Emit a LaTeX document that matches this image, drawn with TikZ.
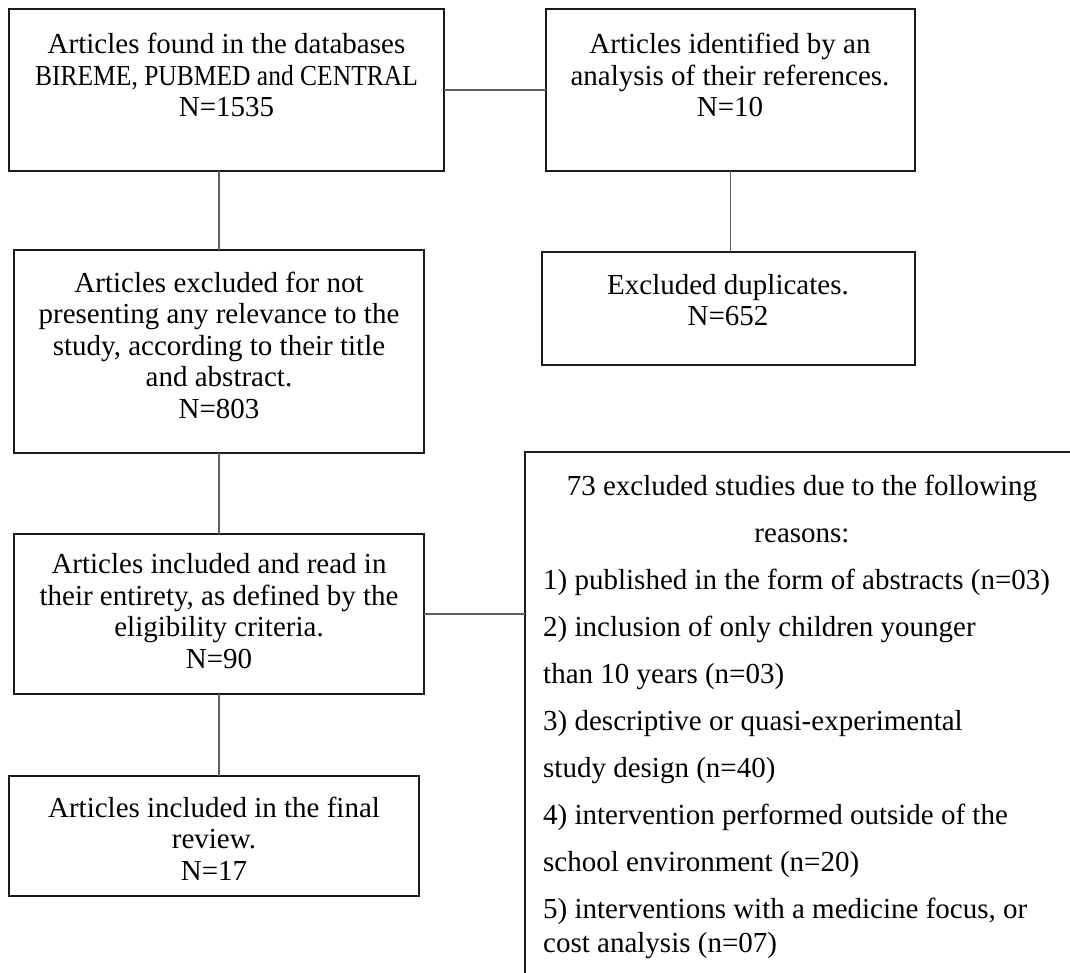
\documentclass[tikz,border=0pt]{standalone}
\usepackage{fontspec}
\setmainfont{Liberation Serif}
\usepackage{graphicx}
\definecolor{edgec}{HTML}{1A1A1A}
\definecolor{connc}{HTML}{606060}
\begin{document}
\begin{tikzpicture}[x=1pt,y=-1pt,
  box/.style={draw=edgec, line width=2pt, inner sep=0pt, outer sep=0pt, fill=white},
  txt/.style={align=center, inner sep=0pt, text=black, font=\fontsize{29}{31.5}\selectfont},
  ltxt/.style={inner sep=0pt, text=black, font=\fontsize{29}{31.5}\selectfont},
  conn/.style={draw=connc, line width=1.5pt}]
\useasboundingbox (0,0) rectangle (1070,972);
\clip (0,0) rectangle (1070,972);
\fill[white] (0,0) rectangle (1070,972);

% boxes
\node[box, minimum width=435pt, minimum height=162pt] (b1) at (226.5,90) {};
\node[box, minimum width=369pt, minimum height=162pt] (b2) at (730.5,90) {};
\node[box, minimum width=410pt, minimum height=203pt] (b3) at (219,351.5) {};
\node[box, minimum width=373pt, minimum height=113pt] (b4) at (728.5,308.5) {};
\node[box, minimum width=410pt, minimum height=160pt] (b5) at (219,614) {};
\node[box, minimum width=410pt, minimum height=120pt] (b6) at (214,836) {};
\node[box, minimum width=560pt, minimum height=540pt] (b7) at (805,722) {};

% texts
\node[txt] (t1) at (226.5,75) {Articles found in the databases\\\scalebox{0.88}[1]{BIREME, PUBMED and CENTRAL}\\N=1535};
\node[txt] (t2) at (730,75) {Articles identified by an\\analysis of their references.\\N=10};
\node[txt] (t3) at (219,345) {Articles excluded for not\\presenting any relevance to the\\study, according to their title\\and abstract.\\N=803};
\node[txt] (t4) at (728,300) {Excluded duplicates.\\N=652};
\node[txt] (t5) at (219,611) {Articles included and read in\\their entirety, as defined by the\\eligibility criteria.\\N=90};
\node[txt] (t6) at (214,838.5) {Articles included in the final\\review.\\N=17};

\node[ltxt, anchor=base] (r0) at (802,495) {73 excluded studies due to the following};
\node[ltxt, anchor=base] (r1) at (802,542) {reasons:};
\node[ltxt, anchor=base west] (r2) at (543,589) {1) published in the form of abstracts (n=03)};
\node[ltxt, anchor=base west] (r3) at (543,636) {2) inclusion of only children younger};
\node[ltxt, anchor=base west] (r4) at (543,683) {than 10 years (n=03)};
\node[ltxt, anchor=base west] (r5) at (543,730) {3) descriptive or quasi-experimental};
\node[ltxt, anchor=base west] (r6) at (543,777) {study design (n=40)};
\node[ltxt, anchor=base west] (r7) at (543,824) {4) intervention performed outside of the};
\node[ltxt, anchor=base west] (r8) at (543,871) {school environment (n=20)};
\node[ltxt, anchor=base west] (r9) at (543,918) {5) interventions with a medicine focus, or};
\node[ltxt, anchor=base west] (r10) at (543,952) {cost analysis (n=07)};

% connectors
\draw[conn] (b1.east) -- (b2.west);
\draw[conn] (b3.north |- b1.south) -- (b3.north);
\draw[conn] (b2.south) -- (b2.south |- b4.north);
\draw[conn] (b3.south) -- (b5.north);
\draw[conn] (b5.east) -- (b5.east -| b7.west);
\draw[conn] (b5.south) -- (b5.south |- b6.north);
\end{tikzpicture}
\end{document}
